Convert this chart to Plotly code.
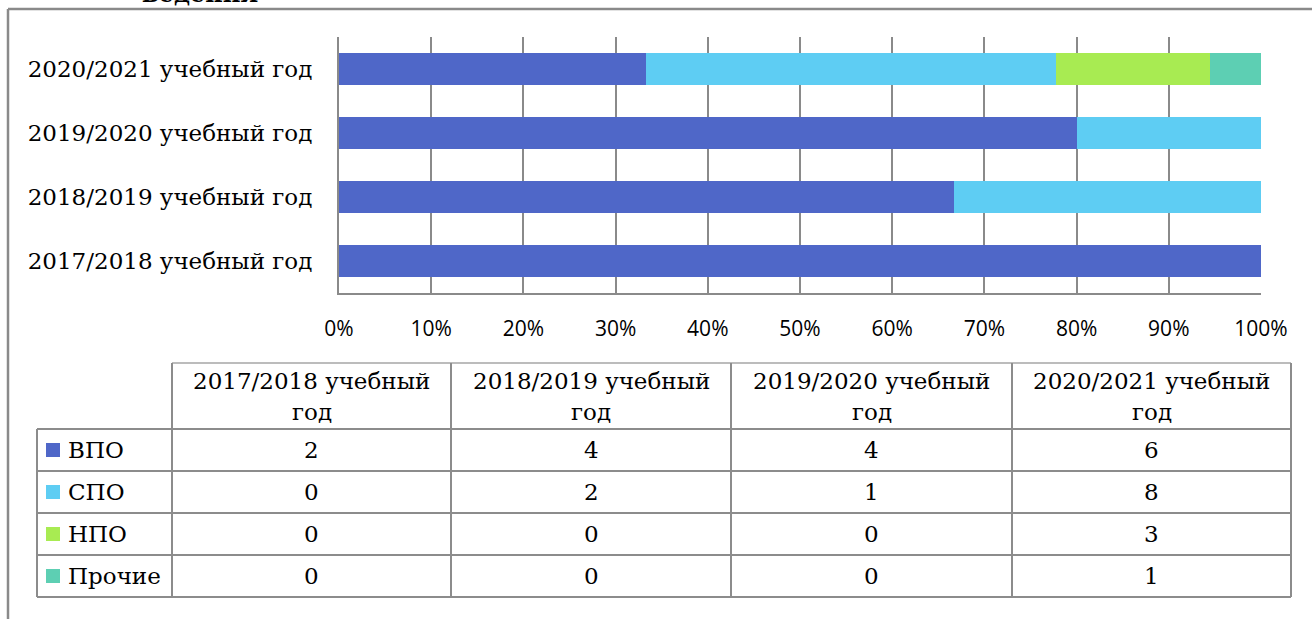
import plotly.graph_objects as go

# ---- data ----
years = ["2017/2018 учебный год", "2018/2019 учебный год",
         "2019/2020 учебный год", "2020/2021 учебный год"]
series_names = ["ВПО", "СПО", "НПО", "Прочие"]
vpo = [2, 4, 4, 6]
spo = [0, 2, 1, 8]
npo = [0, 0, 0, 3]
other = [0, 0, 0, 1]
series_values = [vpo, spo, npo, other]
colors = ["#4F67C8", "#5ECDF3", "#A8EB52", "#5DCFB3"]
x_ticks = [0, 10, 20, 30, 40, 50, 60, 70, 80, 90, 100]
x_tick_labels = ["0%", "10%", "20%", "30%", "40%", "50%", "60%", "70%", "80%", "90%", "100%"]
caption_tail = "ведения"

# ---- geometry (pixels) ----
W, H = 1312, 619
L, R, T, B = 339, 1261, 37, 293


def px(x):
    return (x - L) / (R - L)


def py(y):
    return (B - y) / (B - T)


SERIF = "DejaVu Serif"
SANS = "Open Sans"
GRID = "#8a8a8a"
FS = 23

fig = go.Figure()
for name, vals, col in zip(series_names, series_values, colors):
    fig.add_trace(go.Bar(
        y=years, x=vals, name=name, orientation="h",
        marker=dict(color=col, line=dict(width=0)),
        width=0.5, showlegend=False, hoverinfo="x+y+name",
    ))

shapes = []
annotations = []

# outer frame (left + top)
shapes.append(dict(type="line", xref="paper", yref="paper",
                   x0=px(8), x1=px(W + 5), y0=py(9), y1=py(9),
                   line=dict(color=GRID, width=2.5)))
shapes.append(dict(type="line", xref="paper", yref="paper",
                   x0=px(8), x1=px(8), y0=py(9), y1=py(H + 5),
                   line=dict(color=GRID, width=2.5)))

# cut caption at very top
annotations.append(dict(text="<b>" + caption_tail + "</b>", xref="paper", yref="paper",
                        x=px(200), y=py(10), xanchor="center", yanchor="bottom",
                        showarrow=False, font=dict(family=SERIF, size=24, color="#000")))

# ---- data table ----
col_edges = [37, 172, 451, 731, 1012, 1291]
row_edges = [363, 429, 471, 513, 555, 597]
TB = "#8c8c8c"

shapes.append(dict(type="line", xref="paper", yref="paper",
                   x0=px(col_edges[1]), x1=px(col_edges[-1]), y0=py(row_edges[0]), y1=py(row_edges[0]),
                   line=dict(color="#a6a6a6", width=1.5)))
for ry in row_edges[1:]:
    shapes.append(dict(type="line", xref="paper", yref="paper",
                       x0=px(col_edges[0]), x1=px(col_edges[-1]), y0=py(ry), y1=py(ry),
                       line=dict(color=TB, width=2)))
for i, cx in enumerate(col_edges):
    top = row_edges[1] if i == 0 else row_edges[0]
    shapes.append(dict(type="line", xref="paper", yref="paper",
                       x0=px(cx), x1=px(cx), y0=py(top), y1=py(row_edges[-1]),
                       line=dict(color=TB, width=2)))

for j, yr in enumerate(years):
    cx = (col_edges[j + 1] + col_edges[j + 2]) / 2
    first, last = yr.rsplit(" ", 1)
    annotations.append(dict(text=first, xref="paper", yref="paper", x=px(cx), y=py(381),
                            xanchor="center", yanchor="middle", showarrow=False,
                            font=dict(family=SERIF, size=FS, color="#000")))
    annotations.append(dict(text=last, xref="paper", yref="paper", x=px(cx), y=py(412),
                            xanchor="center", yanchor="middle", showarrow=False,
                            font=dict(family=SERIF, size=FS, color="#000")))

for i, (name, vals, col) in enumerate(zip(series_names, series_values, colors)):
    cy = (row_edges[i + 1] + row_edges[i + 2]) / 2
    shapes.append(dict(type="rect", xref="paper", yref="paper",
                       x0=px(46), x1=px(60), y0=py(cy - 7), y1=py(cy + 7),
                       fillcolor=col, line=dict(width=0)))
    annotations.append(dict(text=name, xref="paper", yref="paper", x=px(66), y=py(cy),
                            xanchor="left", yanchor="middle", showarrow=False,
                            font=dict(family=SERIF, size=FS, color="#000")))
    for j, v in enumerate(vals):
        cx = (col_edges[j + 1] + col_edges[j + 2]) / 2
        annotations.append(dict(text=str(v), xref="paper", yref="paper", x=px(cx), y=py(cy),
                                xanchor="center", yanchor="middle", showarrow=False,
                                font=dict(family=SERIF, size=FS, color="#000")))

fig.update_layout(
    width=W, height=H,
    margin=dict(l=L, r=W - R, t=T, b=H - B, pad=0),
    barmode="stack", barnorm="percent",
    paper_bgcolor="white", plot_bgcolor="white",
    shapes=shapes, annotations=annotations,
    xaxis=dict(range=[0, 100], tickmode="array", tickvals=x_ticks, ticktext=x_tick_labels,
               showgrid=True, gridcolor=GRID, gridwidth=2,
               showline=True, linecolor=GRID, linewidth=2, zeroline=False,
               ticks="", ticklabelstandoff=16,
               tickfont=dict(family=SANS, size=21, color="#000"), fixedrange=True),
    yaxis=dict(categoryorder="array", categoryarray=years,
               showline=True, linecolor=GRID, linewidth=2, showgrid=False,
               ticks="", ticklabelstandoff=20,
               tickfont=dict(family=SERIF, size=FS, color="#000"), fixedrange=True),
)

fig.write_html("out.html", config={"displayModeBar": False},
               post_script="document.body.style.margin='0';document.body.style.overflow='hidden';")
